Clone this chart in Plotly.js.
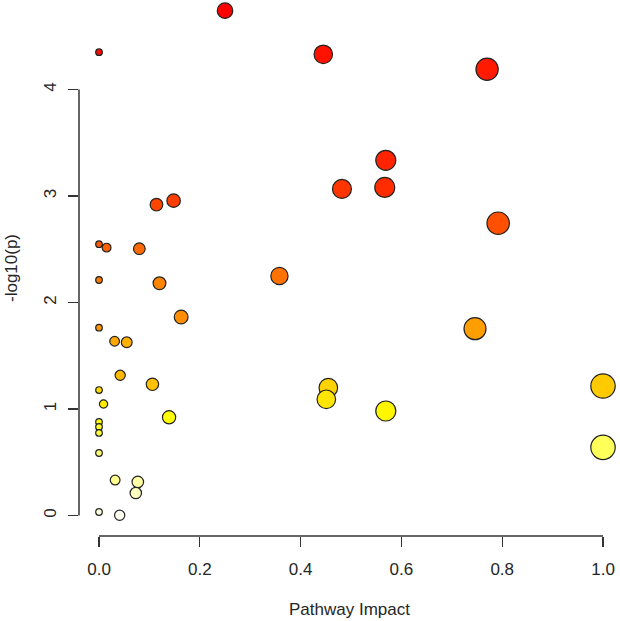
<!DOCTYPE html>
<html>
<head>
<meta charset="utf-8">
<script src="https://cdn.plot.ly/plotly-3.0.1.min.js"></script>
<style>html,body{margin:0;padding:0;background:#fff;}#chart{width:620px;height:621px;}</style>
</head>
<body>
<div id="chart"></div>
<script>
// Pathway impact (x) and -log10(p) (y), ordered by significance (most significant first)
const pathwayImpact = [0.250, 0.000, 0.445, 0.770, 0.569, 0.567, 0.482, 0.148, 0.114, 0.792,
                       0.000, 0.015, 0.080, 0.358, 0.000, 0.120, 0.163, 0.000, 0.746, 0.031,
                       0.055, 0.042, 0.106, 1.000, 0.455, 0.000, 0.451, 0.009, 0.569, 0.139,
                       0.000, 0.000, 0.000, 1.000, 0.000, 0.032, 0.077, 0.073, 0.000, 0.041];
const negLog10P = [4.74, 4.35, 4.33, 4.19, 3.335, 3.08, 3.066, 2.956, 2.918, 2.744,
                   2.547, 2.515, 2.505, 2.249, 2.211, 2.180, 1.864, 1.763, 1.754, 1.636,
                   1.626, 1.316, 1.232, 1.216, 1.200, 1.178, 1.091, 1.047, 0.981, 0.922,
                   0.878, 0.831, 0.775, 0.640, 0.587, 0.333, 0.315, 0.211, 0.033, 0.002];
const xTicks = [0, 0.2, 0.4, 0.6, 0.8, 1.0];
const yTicks = [0, 1, 2, 3, 4];

// R-style heat.colors(n), assigned by rank of p-value
function hsvToHex(h, s, v) {
  const i = Math.floor(h * 6), f = h * 6 - i;
  const p = v * (1 - s), q = v * (1 - f * s), t = v * (1 - (1 - f) * s);
  let r, g, b;
  switch (i % 6) {
    case 0: r = v; g = t; b = p; break;
    case 1: r = q; g = v; b = p; break;
    case 2: r = p; g = v; b = t; break;
    case 3: r = p; g = q; b = v; break;
    case 4: r = t; g = p; b = v; break;
    default: r = v; g = p; b = q;
  }
  const hx = c => Math.round(c * 255).toString(16).padStart(2, '0');
  return '#' + hx(r) + hx(g) + hx(b);
}
function heatColors(n) {
  const j = Math.floor(n / 4), i = n - j, out = [];
  for (let k = 0; k < i; k++) out.push(hsvToHex((i > 1 ? k / (i - 1) : 0) / 6, 1, 1));
  for (let k = 0; k < j; k++) {
    const s0 = 1 - 1 / (2 * j), s1 = 1 / (2 * j);
    const s = j > 1 ? s0 + (s1 - s0) * k / (j - 1) : s0;
    out.push(hsvToHex(1 / 6, s, 1));
  }
  return out;
}
const order = negLog10P.map((v, i) => i).sort((a, b) => negLog10P[b] - negLog10P[a]);
const palette = heatColors(negLog10P.length);
const colors = new Array(negLog10P.length);
order.forEach((idx, rank) => { colors[idx] = palette[rank]; });
const sizes = pathwayImpact.map(v => 2 * (3.8 + 8.9 * Math.sqrt(v)) - 1);

const fontFam = 'Liberation Sans, Arial, sans-serif';
const txtColor = '#262626';
const trace = {
  type: 'scatter', mode: 'markers',
  x: pathwayImpact, y: negLog10P,
  marker: { color: colors, size: sizes, opacity: 1, line: { color: '#222222', width: 1.2 } },
  hoverinfo: 'x+y', showlegend: false
};
const layout = {
  width: 620, height: 621,
  margin: { l: 79, r: 0, t: 0, b: 85, pad: 0 },
  paper_bgcolor: '#ffffff', plot_bgcolor: '#ffffff',
  font: { family: fontFam, color: txtColor },
  xaxis: {
    range: [-0.0397, 1.0337], tickvals: xTicks, tickformat: '.1f',
    showline: false, showgrid: false, zeroline: false, automargin: false,
    ticks: 'outside', ticklen: 10, tickwidth: 1.3, tickcolor: '#333333',
    ticklabelstandoff: 8,
    tickfont: { family: fontFam, size: 17, color: txtColor },
    title: { text: 'Pathway Impact', font: { family: fontFam, size: 17, color: txtColor }, standoff: 24 }
  },
  yaxis: {
    range: [-0.1925, 4.840], tickvals: yTicks, tickangle: -90,
    showline: false, showgrid: false, zeroline: false, automargin: false,
    ticks: 'outside', ticklen: 10, tickwidth: 1.3, tickcolor: '#333333',
    ticklabelstandoff: 5,
    tickfont: { family: fontFam, size: 17, color: txtColor },
    title: { text: '-log10(p)', font: { family: fontFam, size: 17, color: txtColor }, standoff: 19 }
  },
  shapes: [
    { type: 'line', xref: 'x', yref: 'paper', x0: 0, x1: 1, y0: 0, y1: 0, line: { color: '#333333', width: 1.5 } },
    { type: 'line', xref: 'paper', yref: 'y', x0: 0, x1: 0, y0: 0, y1: 4, line: { color: '#333333', width: 1.5 } }
  ]
};
Plotly.newPlot('chart', [trace], layout, { staticPlot: true, displayModeBar: false });
</script>
</body>
</html>
